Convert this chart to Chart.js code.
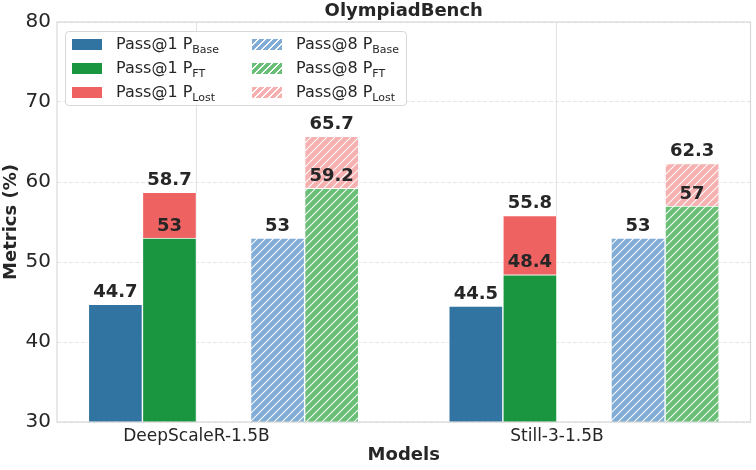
<!DOCTYPE html>
<html>
<head>
<meta charset="utf-8">
<script src="https://cdn.jsdelivr.net/npm/chart.js@4.4.1/dist/chart.umd.min.js"></script>
<style>
  html, body { margin: 0; padding: 0; background: #fff; }
  #wrap { position: relative; width: 756px; height: 470px; }
  #legend {
    position: absolute; left: 65px; top: 31px; width: 340px; height: 73px;
    border: 1px solid #d8d8d8; border-radius: 4px; background: rgba(255,255,255,0.85);
    font-family: "DejaVu Sans", sans-serif; font-size: 16px; color: #262626;
  }
  .item { position: absolute; height: 20px; line-height: 20px; white-space: nowrap; }
  .sw { position: absolute; top: 5px; width: 30px; height: 11px; }
  .lbl { position: absolute; left: 44px; top: 0; }
  .lbl sub { font-size: 11px; vertical-align: -4px; line-height: 0; }
</style>
</head>
<body>
<div id="wrap">
  <canvas id="chart" width="756" height="470"></canvas>
  <div id="legend"></div>
</div>
<script>
// OlympiadBench pass@k breakdown

const models = ['DeepScaleR-1.5B', 'Still-3-1.5B'];
const pass1Base = [44.7, 44.5];
const pass1FT = [53, 48.4];
const pass1Total = [58.7, 55.8];
const pass8Base = [53, 53];
const pass8FT = [59.2, 57];
const pass8Total = [65.7, 62.3];
const yTicks = [30, 40, 50, 60, 70, 80];

const barW = 0.15;

function hatch(color) {
    const c = document.createElement('canvas');
    c.width = 8; c.height = 8;
    const g = c.getContext('2d');
    g.fillStyle = color;
    g.fillRect(0, 0, 8, 8);
    g.strokeStyle = 'rgba(255,255,255,0.95)';
    g.lineWidth = 1.1;
    g.beginPath();
    g.moveTo(0, 8); g.lineTo(8, 0);
    g.moveTo(-2, 2); g.lineTo(2, -2);
    g.moveTo(6, 10); g.lineTo(10, 6);
    g.stroke();
    return g.createPattern(c, 'repeat');
}

const ctx = document.getElementById('chart').getContext('2d');

const series = [
    { name: 'Pass@1', sub: 'Base', off: -1.5, vals: pass1Base, from: null, color: '#3274a1', hatched: false },
    { name: 'Pass@1', sub: 'FT', off: -0.5, vals: pass1FT, from: null, color: '#1a9641', hatched: false },
    { name: 'Pass@1', sub: 'Lost', off: -0.5, vals: pass1Total, from: pass1FT, color: '#ef6262', hatched: false },
    { name: 'Pass@8', sub: 'Base', off: 1.5, vals: pass8Base, from: null, color: '#80acd5', hatched: true },
    { name: 'Pass@8', sub: 'FT', off: 2.5, vals: pass8FT, from: null, color: '#69bf76', hatched: true },
    { name: 'Pass@8', sub: 'Lost', off: 2.5, vals: pass8Total, from: pass8FT, color: '#f6b0b0', hatched: true }
];

const datasets = series.map(s => ({
    label: s.name + ' P' + s.sub,
    data: s.vals.map((v, i) => ({ x: i + s.off * barW, y: s.from ? [s.from[i], v] : v })),
    valueLabels: s.vals,
    backgroundColor: s.hatched ? hatch(s.color) : s.color,
    borderColor: '#ffffff',
    borderWidth: 1,
    borderSkipped: 'start',
    barThickness: 54,
    grouped: false
}));

const barLabels = {
    id: 'barLabels',
    afterDatasetsDraw(chart) {
        const c = chart.ctx;
        c.save();
        c.font = 'bold 18px "DejaVu Sans"';
        c.fillStyle = '#262626';
        c.textAlign = 'center';
        c.textBaseline = 'bottom';
        chart.data.datasets.forEach((ds, di) => {
            chart.getDatasetMeta(di).data.forEach((el, i) => {
                c.fillText(String(ds.valueLabels[i]), el.x, el.y - 3);
            });
        });
        c.restore();
    }
};

const frame = {
    id: 'frame',
    afterDraw(chart) {
        const a = chart.chartArea;
        const c = chart.ctx;
        c.save();
        c.strokeStyle = '#d9d9d9';
        c.lineWidth = 1.2;
        c.strokeRect(a.left, a.top, a.right - a.left, a.bottom - a.top);
        c.font = 'bold 18px "DejaVu Sans"';
        c.fillStyle = '#262626';
        c.textAlign = 'center';
        c.textBaseline = 'middle';
        c.fillText('OlympiadBench', (a.left + a.right) / 2, 11);
        c.restore();
    }
};

new Chart(ctx, {
    type: 'bar',
    data: { datasets: datasets },
    options: {
        responsive: false,
        animation: false,
        layout: { padding: { left: 0, right: 5.5, top: 22, bottom: 0 } },
        plugins: { legend: { display: false }, tooltip: { enabled: false } },
        scales: {
            x: {
                type: 'linear',
                offset: false,
                min: -0.387,
                max: 1.537,
                afterBuildTicks: s => { s.ticks = models.map((m, i) => ({ value: i })); },
                afterFit: s => { s.height = 48; },
                ticks: {
                    callback: v => models[v],
                    font: { family: 'DejaVu Sans', size: 17 },
                    color: '#262626',
                    padding: 4,
                    maxRotation: 0
                },
                grid: { color: '#e2e2e2', lineWidth: 1, drawTicks: false, offset: false },
                border: { display: false },
                title: {
                    display: true,
                    text: 'Models',
                    font: { family: 'DejaVu Sans', size: 18, weight: 'bold' },
                    color: '#262626',
                    padding: { top: 0, bottom: 4 }
                }
            },
            y: {
                min: 30,
                max: 80,
                afterBuildTicks: s => { s.ticks = yTicks.map(v => ({ value: v })); },
                afterFit: s => { s.width = 57; },
                ticks: {
                    font: { family: 'DejaVu Sans', size: 20 },
                    color: '#262626',
                    padding: 6
                },
                grid: { color: '#e6e6e6', lineWidth: 1, drawTicks: false },
                border: { display: false, dash: [4, 2] },
                title: {
                    display: true,
                    text: 'Metrics (%)',
                    font: { family: 'DejaVu Sans', size: 18, weight: 'bold' },
                    color: '#262626',
                    padding: { top: 1, bottom: 0 }
                }
            }
        }
    },
    plugins: [barLabels, frame]
});

// legend with subscripts
const legend = document.getElementById('legend');
series.forEach((s, k) => {
    const col = s.hatched ? 1 : 0;
    const row = k % 3;
    const item = document.createElement('div');
    item.className = 'item';
    item.style.left = (col ? 186 : 6) + 'px';
    item.style.top = (2 + row * 24) + 'px';
    const sw = document.createElement('div');
    sw.className = 'sw';
    sw.style.background = s.hatched
        ? 'repeating-linear-gradient(135deg, ' + s.color + ' 0px, ' + s.color + ' 4px, #fff 4px, #fff 5px)'
        : s.color;
    const lbl = document.createElement('div');
    lbl.className = 'lbl';
    lbl.innerHTML = s.name + ' P<sub>' + s.sub + '</sub>';
    item.appendChild(sw);
    item.appendChild(lbl);
    legend.appendChild(item);
});
</script>
</body>
</html>
